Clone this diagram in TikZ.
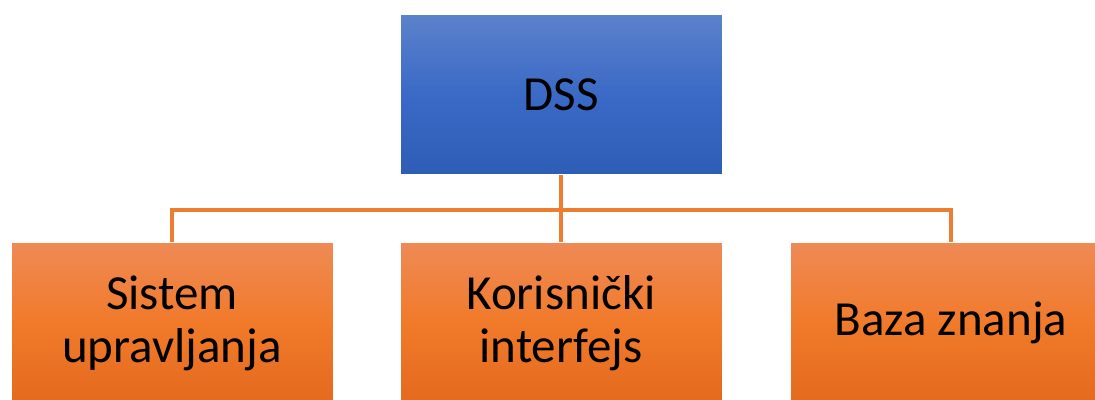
\documentclass[tikz,border=0pt]{standalone}
\usepackage{fontspec}
\setmainfont{Carlito}
\usepackage{tikz}
\usetikzlibrary{positioning}
\definecolor{dssTop}{HTML}{5B82CB}
\definecolor{dssMid}{HTML}{3A6AC6}
\definecolor{dssBot}{HTML}{2E5DB6}
\definecolor{orTop}{HTML}{EF8A55}
\definecolor{orMid}{HTML}{F17A2A}
\definecolor{orBot}{HTML}{E46A1E}
\definecolor{orLine}{HTML}{ED7D31}

\begin{document}
\begin{tikzpicture}[x=0.5pt,y=-0.5pt,
              topbox/.style={draw=white, line width=0.5pt, top color=dssTop, bottom color=dssBot,
                             middle color=dssMid,
                             minimum width=161pt, minimum height=80pt, inner sep=0pt,
                             font=\fontsize{24.5}{26.5}\selectfont},
              subbox/.style={draw=white, line width=0.5pt, top color=orTop, bottom color=orBot,
                             middle color=orMid,
                             minimum width=161pt, minimum height=80pt, inner sep=0pt, align=center,
                             font=\fontsize{24.5}{26.5}\selectfont},
              conn/.style={orLine, line width=1.9pt},
             ]
\useasboundingbox (0,0) rectangle (1095,400);
\clip (0,0) rectangle (1095,400);
\node[topbox] (dss) at (561,95) {DSS};
\node[subbox] (kor) at (561,323) {Korisnički\\interfejs};
\node[subbox] (sys) at (172,323) {Sistem\\upravljanja};
\node[subbox] (baza) at (951,323) {Baza znanja};
\coordinate (bus) at (561,210);
\draw[conn] (dss.south) -- (kor.north);
\draw[conn] (sys.north) |- (bus) -| (baza.north);
\end{tikzpicture}
\end{document}
